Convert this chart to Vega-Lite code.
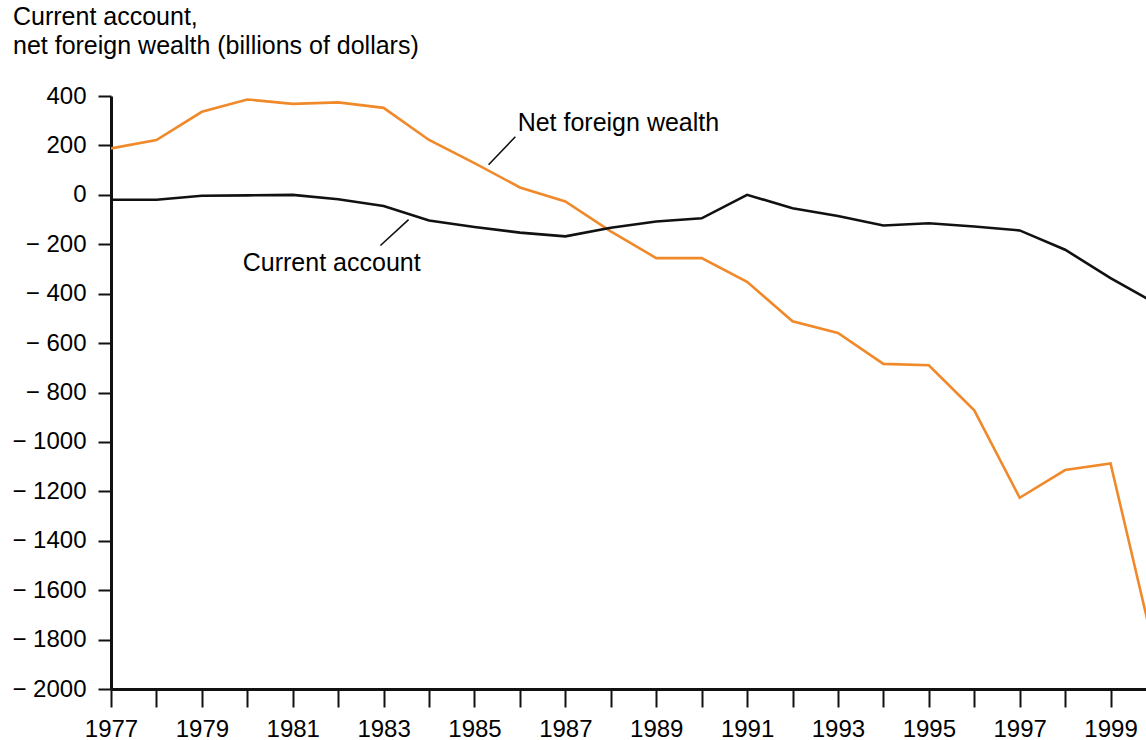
{
  "$schema": "https://vega.github.io/schema/vega-lite/v6.json",
  "autosize": "none",
  "width": 1035,
  "height": 593,
  "padding": {"left": 111, "top": 96, "right": 0, "bottom": 51},
  "background": "white",
  "title": {
    "text": ["Current account,", "net foreign wealth (billions of dollars)"],
    "anchor": "start",
    "frame": "group",
    "font": "Liberation Sans",
    "fontSize": 25,
    "fontWeight": "normal",
    "color": "#000000",
    "lineHeight": 29,
    "baseline": "top",
    "dx": -98,
    "offset": 25
  },
  "config": {
    "view": {"stroke": null},
    "axis": {
      "labelFont": "Liberation Sans",
      "labelFontSize": 24,
      "labelColor": "#000000",
      "domainColor": "#111111",
      "tickColor": "#111111",
      "grid": false
    }
  },
  "datasets": {
    "series": [
      {"year": 1977, "series": "Net foreign wealth", "value": 188},
      {"year": 1978, "series": "Net foreign wealth", "value": 222},
      {"year": 1979, "series": "Net foreign wealth", "value": 336},
      {"year": 1980, "series": "Net foreign wealth", "value": 386},
      {"year": 1981, "series": "Net foreign wealth", "value": 368},
      {"year": 1982, "series": "Net foreign wealth", "value": 374},
      {"year": 1983, "series": "Net foreign wealth", "value": 352},
      {"year": 1984, "series": "Net foreign wealth", "value": 222},
      {"year": 1985, "series": "Net foreign wealth", "value": 128},
      {"year": 1986, "series": "Net foreign wealth", "value": 30},
      {"year": 1987, "series": "Net foreign wealth", "value": -27},
      {"year": 1988, "series": "Net foreign wealth", "value": -148},
      {"year": 1989, "series": "Net foreign wealth", "value": -256},
      {"year": 1990, "series": "Net foreign wealth", "value": -256},
      {"year": 1991, "series": "Net foreign wealth", "value": -352},
      {"year": 1992, "series": "Net foreign wealth", "value": -512},
      {"year": 1993, "series": "Net foreign wealth", "value": -559},
      {"year": 1994, "series": "Net foreign wealth", "value": -684},
      {"year": 1995, "series": "Net foreign wealth", "value": -690},
      {"year": 1996, "series": "Net foreign wealth", "value": -872},
      {"year": 1997, "series": "Net foreign wealth", "value": -1226},
      {"year": 1998, "series": "Net foreign wealth", "value": -1114},
      {"year": 1999, "series": "Net foreign wealth", "value": -1087},
      {"year": 2000, "series": "Net foreign wealth", "value": -1870},
      {"year": 1977, "series": "Current account", "value": -20},
      {"year": 1978, "series": "Current account", "value": -20},
      {"year": 1979, "series": "Current account", "value": -4},
      {"year": 1980, "series": "Current account", "value": -2},
      {"year": 1981, "series": "Current account", "value": 0},
      {"year": 1982, "series": "Current account", "value": -18},
      {"year": 1983, "series": "Current account", "value": -45},
      {"year": 1984, "series": "Current account", "value": -104},
      {"year": 1985, "series": "Current account", "value": -130},
      {"year": 1986, "series": "Current account", "value": -153},
      {"year": 1987, "series": "Current account", "value": -168},
      {"year": 1988, "series": "Current account", "value": -133},
      {"year": 1989, "series": "Current account", "value": -108},
      {"year": 1990, "series": "Current account", "value": -95},
      {"year": 1991, "series": "Current account", "value": 0},
      {"year": 1992, "series": "Current account", "value": -54},
      {"year": 1993, "series": "Current account", "value": -86},
      {"year": 1994, "series": "Current account", "value": -124},
      {"year": 1995, "series": "Current account", "value": -115},
      {"year": 1996, "series": "Current account", "value": -128},
      {"year": 1997, "series": "Current account", "value": -144},
      {"year": 1998, "series": "Current account", "value": -222},
      {"year": 1999, "series": "Current account", "value": -337},
      {"year": 2000, "series": "Current account", "value": -440}
    ],
    "labels": [
      {"year": 1985.95, "value": 292, "label": "Net foreign wealth"},
      {"year": 1979.9, "value": -274, "label": "Current account"}
    ],
    "leaders": [
      {"year": 1985.31, "value": 122, "year2": 1985.9, "value2": 235},
      {"year": 1982.93, "value": -205, "year2": 1983.55, "value2": -100}
    ]
  },
  "layer": [
    {
      "mark": {"type": "rule", "strokeDash": [25, 13], "strokeWidth": 1.6, "color": "#111111"},
      "encoding": {"y": {"datum": 0, "type": "quantitative"}}
    },
    {
      "data": {"name": "series"},
      "mark": {"type": "line", "strokeWidth": 2.6, "clip": true},
      "encoding": {
        "x": {
          "field": "year",
          "type": "quantitative",
          "scale": {"domain": [1977, 1999.78], "nice": false, "zero": false},
          "axis": {
            "title": null,
            "values": [1977,1978,1979,1980,1981,1982,1983,1984,1985,1986,1987,1988,1989,1990,1991,1992,1993,1994,1995,1996,1997,1998,1999],
            "labelExpr": "(datum.value - 1977) % 2 === 0 ? format(datum.value, 'd') : ''",
            "tickSize": 18,
            "tickWidth": 2,
            "domainWidth": 3,
            "labelPadding": 10,
            "labelFlush": false,
            "labelOverlap": false
          }
        },
        "y": {
          "field": "value",
          "type": "quantitative",
          "scale": {"domain": [-2000, 400], "nice": false},
          "axis": {
            "title": null,
            "values": [-2000,-1900,-1800,-1700,-1600,-1500,-1400,-1300,-1200,-1100,-1000,-900,-800,-700,-600,-500,-400,-300,-200,-100,0,100,200,300,400],
            "labelExpr": "datum.value % 200 !== 0 ? '' : (datum.value < 0 ? '\u2212 ' + format(-datum.value, 'd') : format(datum.value, 'd'))",
            "tickSize": 13,
            "tickWidth": 2,
            "domainWidth": 3,
            "labelPadding": 12,
            "labelFlush": false,
            "labelOverlap": false
          }
        },
        "color": {
          "field": "series",
          "type": "nominal",
          "scale": {"domain": ["Net foreign wealth", "Current account"], "range": ["#F0892A", "#111111"]},
          "legend": null
        },
        "detail": {"field": "series"}
      }
    },
    {
      "data": {"name": "leaders"},
      "mark": {"type": "rule", "strokeWidth": 1.6, "color": "#111111"},
      "encoding": {
        "x": {"field": "year", "type": "quantitative"},
        "y": {"field": "value", "type": "quantitative"},
        "x2": {"field": "year2"},
        "y2": {"field": "value2"}
      }
    },
    {
      "data": {"name": "labels"},
      "mark": {"type": "text", "align": "left", "baseline": "middle", "font": "Liberation Sans", "fontSize": 25, "color": "#000000"},
      "encoding": {
        "x": {"field": "year", "type": "quantitative"},
        "y": {"field": "value", "type": "quantitative"},
        "text": {"field": "label"}
      }
    }
  ]
}
